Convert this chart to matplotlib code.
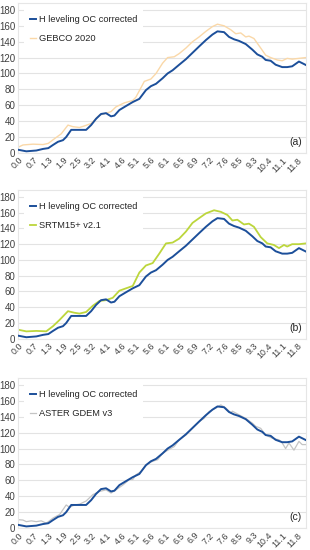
import numpy as np
import matplotlib
matplotlib.use('Agg')
import matplotlib.pyplot as plt

plt.rcParams['font.family'] = ['Liberation Sans', 'DejaVu Sans']

# category labels (distance, km) on the x axis
tick_labels = ['0.0', '0.7', '1.3', '1.9', '2.5', '3.2', '4.1', '4.6', '5.1', '5.6',
               '6.1', '6.5', '6.9', '7.2', '7.6', '8.5', '9.3', '10.4', '11.1', '11.8']

# H leveling OC corrected (x in category-label units)
h_x = [-0.05, 0.52, 1.20, 1.66, 2.02, 2.34, 2.68, 3.02, 3.24, 3.58, 4.15, 4.60, 4.94, 5.28,
       5.62, 5.96, 6.30, 6.53, 6.87, 7.32, 7.78, 8.23, 8.68, 9.02, 9.37, 9.82, 10.16, 10.50,
       10.95, 11.41, 11.86, 12.31, 12.77, 13.22, 13.56, 14.01, 14.35, 14.69, 15.03, 15.49,
       15.94, 16.28, 16.62, 16.85, 17.19, 17.53, 17.98, 18.32, 18.66, 19.12, 19.34, 19.61]
h_y = [4, 2, 3, 5, 6, 10, 14, 16, 20, 29, 29, 29, 35, 43,
       49, 50, 46, 47, 54, 59, 64, 68, 79, 84, 87, 94, 100, 104,
       111, 118, 126, 134, 142, 149, 153, 152, 146, 143, 141, 137,
       130, 124, 121, 117, 116, 111, 108, 108, 109, 115, 113, 110.5]

# GEBCO 2020
gebco_x = [-0.05, 0.29, 0.98, 1.66, 2.02, 2.45, 2.90, 3.36, 3.70, 4.15, 4.49, 4.94, 5.51,
           5.96, 6.30, 6.64, 7.21, 7.78, 7.99, 8.34, 8.57, 9.02, 9.37, 9.82, 10.16, 10.61,
           10.95, 11.41, 11.86, 12.31, 12.77, 13.22, 13.56, 14.01, 14.47, 14.81, 15.15,
           15.49, 15.71, 16.05, 16.51, 16.85, 17.19, 17.64, 17.98, 18.32, 18.66, 19.12, 19.61]
gebco_y = [7, 10, 11, 10.5, 12, 18, 24, 35, 33, 32, 34, 37, 47.5,
           50, 52, 58, 63, 66, 70, 82, 90, 93, 100, 113, 120, 121,
           125, 132, 140, 146, 153, 159, 162, 160, 155, 150, 151,
           146, 147, 144, 132, 123, 120, 117, 116, 119, 118, 119, 120]

# SRTM15+ v2.1
srtm_x = [-0.05, 0.52, 1.20, 1.88, 2.34, 2.79, 3.36, 3.81, 4.15, 4.60, 5.06, 5.51, 5.96,
          6.42, 6.87, 7.32, 7.78, 8.23, 8.68, 9.14, 9.59, 10.05, 10.50, 10.95, 11.41, 11.86,
          12.31, 12.77, 13.33, 13.79, 14.24, 14.58, 14.92, 15.37, 15.71, 16.05, 16.51, 16.96,
          17.41, 17.76, 18.10, 18.32, 18.66, 19.12, 19.61]
srtm_y = [11.6, 9.4, 10, 9.5, 16, 24, 35, 33, 32, 34, 42, 48, 49,
          52, 61, 64, 67, 84, 93, 96, 108, 121, 122, 127, 136, 147,
          153, 159, 163, 161, 157, 150, 151, 145, 146, 142, 129, 121,
          119, 115, 119, 117, 120, 120, 121]

# ASTER GDEM v3
aster_x = [-0.05, 0.29, 0.52, 0.86, 1.20, 1.54, 1.88, 2.34, 2.79, 3.24, 3.47, 3.81, 4.15,
           4.60, 5.06, 5.51, 5.96, 6.30, 6.64, 7.10, 7.55, 7.78, 8.00, 8.34, 8.68, 9.14,
           9.48, 9.82, 10.27, 10.61, 10.95, 11.41, 11.86, 12.31, 12.65, 12.99, 13.45, 13.79,
           14.13, 14.47, 14.58, 15.03, 15.49, 15.94, 16.17, 16.51, 16.85, 17.30, 17.76, 17.98,
           18.21, 18.44, 18.78, 19.12, 19.34, 19.61]
aster_y = [10.5, 10, 8, 9, 8, 9, 6, 12.5, 17, 29, 26, 29, 30,
           34, 42, 46, 48, 44, 48, 54, 61, 61, 67, 71, 79.5, 84,
           86, 94, 99, 102.5, 111, 117, 125.5, 134, 138, 146.5, 151, 155,
           151, 145, 147, 142.5, 138, 132, 128, 125.5, 117, 113, 111, 107,
           100, 107, 98, 109, 105, 105]

blue = '#1c4f9a'
panels = [
    ('GEBCO 2020', gebco_x, gebco_y, '#fad8a8', 1.0, '(a)'),
    ('SRTM15+ v2.1', srtm_x, srtm_y, '#bcd63c', 1.3, '(b)'),
    ('ASTER GDEM v3', aster_x, aster_y, '#c4c4c4', 0.9, '(c)'),
]
# axes rectangles in figure fractions
rects = [[0.058, 0.722, 0.929, 0.273],
         [0.058, 0.384, 0.929, 0.271],
         [0.058, 0.040, 0.929, 0.273]]

fig = plt.figure(figsize=(3.1, 5.5), dpi=100)

for (name, dx, dy, col, lw, tag), r in zip(panels, rects):
    ax = fig.add_axes(r)
    ax.plot(dx, dy, color=col, lw=lw, label=name, zorder=2)
    ax.plot(h_x, h_y, color=blue, lw=1.4, label='H leveling OC corrected', zorder=3)

    ax.set_xlim(-0.05, 19.6)
    ax.set_ylim(0, 189)
    ax.set_yticks(np.arange(0, 181, 20))
    ax.set_xticks(np.arange(len(tick_labels)))
    ax.set_xticklabels(tick_labels, rotation=45, ha='right', rotation_mode='anchor')
    ax.tick_params(axis='both', length=0, labelsize=7, colors='#404040', pad=2)
    ax.tick_params(axis='x', labelsize=6.4, pad=2)
    ax.grid(axis='y', color='#e3e3e3', lw=0.8)
    ax.set_axisbelow(True)
    for s in ax.spines.values():
        s.set_color('#e6e6e6')
        s.set_linewidth(0.8)

    handles, labels = ax.get_legend_handles_labels()
    leg = ax.legend(handles[::-1], labels[::-1], loc='upper left', fontsize=6.7,
                    frameon=True, facecolor='white', edgecolor='none', framealpha=1,
                    fancybox=False, handlelength=0.6, handletextpad=0.4,
                    labelspacing=1.1, borderaxespad=0.7, borderpad=0.6)
    leg.get_frame().set_linewidth(0)
    for t in leg.get_texts():
        t.set_color('#262626')

    ax.text(0.985, 0.04, tag, transform=ax.transAxes, ha='right', va='bottom',
            fontsize=7.5, color='#262626')

fig.savefig('out.png', dpi=100)
